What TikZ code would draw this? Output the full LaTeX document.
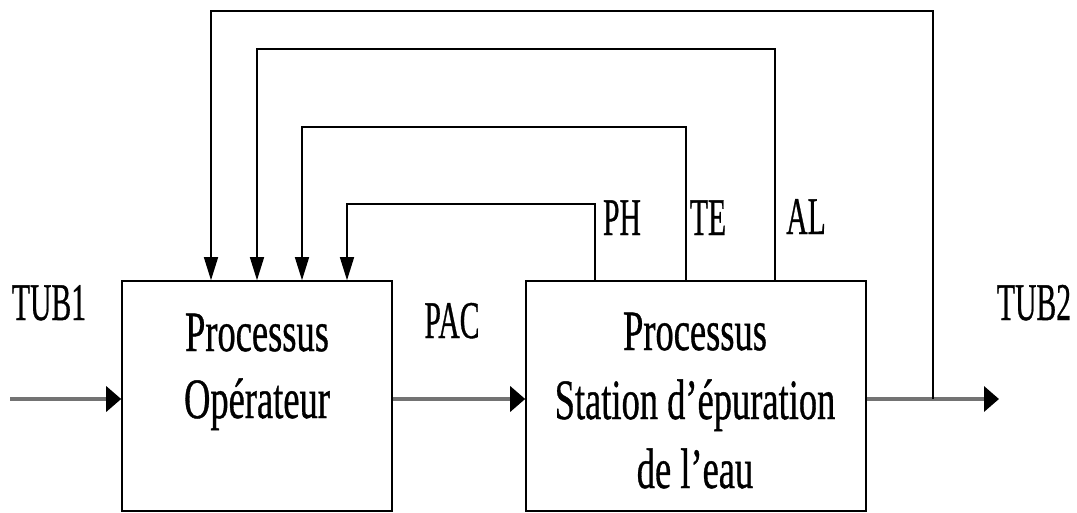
\documentclass[tikz,border=0pt]{standalone}
\usepackage{fontspec}
\setmainfont{Liberation Serif}
\newfontfamily\heavyserif{Liberation Serif}[FakeBold=0.8]
\usetikzlibrary{arrows.meta}
\newcommand\sqz[2]{\scalebox{#1}[1]{#2}}
\begin{document}
\begin{tikzpicture}[x=1pt,y=-1pt,
  procbox/.style={draw=black,line width=1.6pt,minimum width=#1,minimum height=230pt,inner sep=0pt},
  boxtxt/.style={anchor=base,inner sep=0pt,font=\heavyserif\fontsize{57}{68}\selectfont},
  labtxt/.style={anchor=base,inner sep=0pt,font=\heavyserif\fontsize{53}{64}\selectfont},
  flow/.style={draw=black!55,line width=3.5pt,-{Triangle[length=15pt,width=25pt,color=black]}},
  fb/.style={draw=black,line width=1.5pt,-{Triangle[length=23pt,width=14pt]}}]
\useasboundingbox (0,0) rectangle (1077,512);
% boxes
\node[procbox=270pt] (op) at (257,396) {};
\node[procbox=340pt] (st) at (696,396) {};
% box texts
\node[boxtxt] (op1) at (257,351) {\sqz{0.64}{Processus}};
\node[boxtxt] (op2) at (257,418) {\sqz{0.64}{Opérateur}};
\node[boxtxt] (st1) at (695,350) {\sqz{0.64}{Processus}};
\node[boxtxt] (st2) at (695,419) {\sqz{0.64}{Station d’épuration}};
\node[boxtxt] (st3) at (695,488) {\sqz{0.64}{de l’eau}};
% labels
\node[labtxt] (tub1) at (49,320) {\sqz{0.56}{TUB1}};
\node[labtxt] (tub2) at (1034,320) {\sqz{0.56}{TUB2}};
\node[labtxt] (pac) at (452,338) {\sqz{0.56}{PAC}};
\node[labtxt] (phl) at (622,235) {\sqz{0.56}{PH}};
\node[labtxt] (tel) at (708,235) {\sqz{0.56}{TE}};
\node[labtxt] (all) at (806,234) {\sqz{0.56}{AL}};
% main line coordinates
\coordinate (inL) at (10,399);
\coordinate (outR) at (999,399);
\coordinate (tap) at (933,399);
% feedback corners
\coordinate (phc) at (595,204);
\coordinate (phi) at (347,204);
\coordinate (tec) at (686,127);
\coordinate (tei) at (302,127);
\coordinate (alc) at (775,49);
\coordinate (ali) at (257,49);
\coordinate (outc) at (933,11);
\coordinate (outi) at (211,11);
% main flow
\draw[flow] (inL) -- (op.west |- inL);
\draw[flow] (op.east |- inL) -- (st.west |- inL);
\draw[flow] (st.east |- inL) -- (outR);
% feedback
\draw[fb] (st.north -| phc) -- (phc) -- (phi) -- (op.north -| phi);
\draw[fb] (st.north -| tec) -- (tec) -- (tei) -- (op.north -| tei);
\draw[fb] (st.north -| alc) -- (alc) -- (ali) -- (op.north -| ali);
\draw[fb] (tap) -- (outc) -- (outi) -- (op.north -| outi);
\end{tikzpicture}
\end{document}
